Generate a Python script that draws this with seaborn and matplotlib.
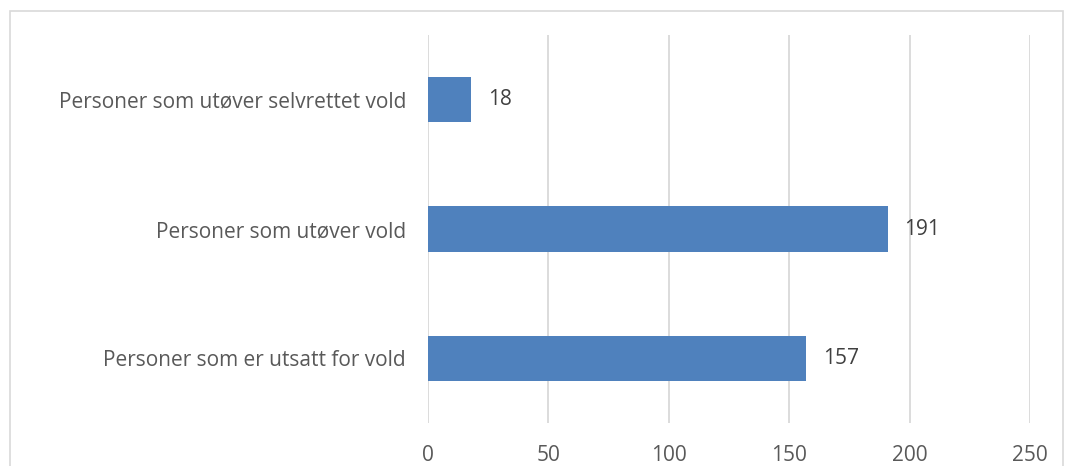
import matplotlib.pyplot as plt
import pandas as pd
import seaborn as sns
from matplotlib.patches import Rectangle

categories = [
    "Personer som utøver selvrettet vold",
    "Personer som utøver vold",
    "Personer som er utsatt for vold",
]
values = [18, 191, 157]
x_ticks = [0, 50, 100, 150, 200, 250]

sns.set_theme(style="white")
plt.rcParams["font.family"] = ["Open Sans", "DejaVu Sans"]

df = pd.DataFrame({"Kategori": categories, "Antall": values})

fig = plt.figure(figsize=(10.65, 4.66), dpi=100)
ax = fig.add_axes([0.402, 0.092, 0.565, 0.833])

sns.barplot(data=df, x="Antall", y="Kategori", color="#4F81BD", saturation=1,
            width=0.35, linewidth=0, ax=ax, zorder=3)

ax.set_xlim(0, 250)
ax.set_ylim(2.5, -0.5)
ax.set_xticks(x_ticks)
ax.grid(axis="x", color="#D9D9D9", linewidth=1.3, zorder=0)
ax.grid(axis="y", visible=False)
for s in ax.spines.values():
    s.set_visible(False)
ax.set_xlabel("")
ax.set_ylabel("")
ax.tick_params(axis="x", length=0, pad=16, labelsize=15, labelcolor="#595959")
ax.tick_params(axis="y", length=0, pad=16, labelsize=15, labelcolor="#595959")

ax.bar_label(ax.containers[0], labels=[str(v) for v in values], padding=12,
             fontsize=15, color="#404040")

fig.patches.append(Rectangle((10 / 1065, -0.1), 1053 / 1065, 1 - 11 / 466 + 0.1,
                             transform=fig.transFigure, fill=False,
                             edgecolor="#D9D9D9", linewidth=1.2, clip_on=False))

fig.savefig("out.png", dpi=100)
